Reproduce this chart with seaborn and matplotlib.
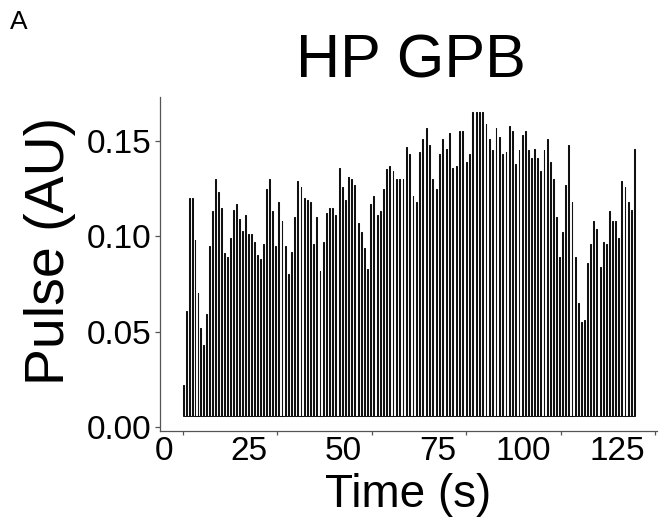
import numpy as np
import pandas as pd
import matplotlib
matplotlib.use("Agg")
import matplotlib.pyplot as plt
from matplotlib.transforms import ScaledTranslation
import seaborn as sns

# ---------------- data ----------------
title = "HP GPB"
panel_tag = "A"
x_label = "Time (s)"
y_label = "Pulse (AU)"
x_ticks = [0, 25, 50, 75, 100, 125]
y_ticks = [0.00, 0.05, 0.10, 0.15]
y_tick_labels = ["0.00", "0.05", "0.10", "0.15"]

baseline = 0.006  # resting level of the trace between pulses

# pulse peak heights, read in four consecutive stretches of the record
peaks_seg1 = [0.022, 0.061, 0.120, 0.120, 0.098, 0.070, 0.052, 0.043, 0.059, 0.095,
              0.113, 0.130, 0.123, 0.115, 0.091, 0.089, 0.099, 0.114, 0.117, 0.109,
              0.103, 0.111, 0.101, 0.101, 0.097, 0.090, 0.088, 0.096, 0.125, 0.130]
peaks_seg2 = [0.113, 0.095, 0.118, 0.108, 0.095, 0.080, 0.092, 0.110, 0.129, 0.126,
              0.120, 0.119, 0.118, 0.096, 0.110, 0.082, 0.097, 0.112, 0.115, 0.115,
              0.111, 0.136, 0.126, 0.119, 0.131, 0.130, 0.127, 0.107, 0.102, 0.094,
              0.083, 0.117, 0.121, 0.111, 0.113, 0.125, 0.135, 0.137]
peaks_seg3 = [0.134, 0.130, 0.130, 0.130, 0.147, 0.143, 0.121, 0.118, 0.144, 0.151,
              0.157, 0.148, 0.130, 0.125, 0.143, 0.151, 0.146, 0.154, 0.136, 0.137,
              0.155, 0.155, 0.139, 0.143, 0.165, 0.165, 0.165, 0.165, 0.159, 0.151,
              0.145, 0.157, 0.152, 0.143, 0.144]
peaks_seg4 = [0.158, 0.155, 0.138, 0.145, 0.153, 0.155, 0.145, 0.141, 0.146, 0.141,
              0.134, 0.145, 0.151, 0.139, 0.130, 0.110, 0.089, 0.102, 0.127, 0.148,
              0.118, 0.089, 0.065, 0.055, 0.056, 0.086, 0.096, 0.108, 0.104, 0.084,
              0.097, 0.096, 0.113, 0.108, 0.108, 0.099, 0.129, 0.126, 0.118, 0.114,
              0.146]
# time (s) of the first and last pulse of each stretch (beats are evenly spaced inside)
seg_first_time = [0.08, 23.73, 55.63, 86.51]
seg_last_time = [22.83, 54.76, 85.52, 119.50]

# ---------------- build the trace ----------------
segments = [peaks_seg1, peaks_seg2, peaks_seg3, peaks_seg4]
beat_t = np.concatenate([np.linspace(a, b, len(s))
                         for s, a, b in zip(segments, seg_first_time, seg_last_time)])
beat_v = np.concatenate([np.asarray(s) for s in segments])

half_width = 0.12  # pulse half width in seconds
tt, vv = [], []
for t, v in zip(beat_t, beat_v):
    tt += [t - half_width, t - half_width, t + half_width, t + half_width]
    vv += [baseline, v, v, baseline]
df = pd.DataFrame({"time": tt, "pulse": vv})

# ---------------- figure ----------------
sns.set_style("ticks")
plt.rcParams["font.family"] = ["Liberation Sans", "DejaVu Sans"]
plt.rcParams["text.color"] = "black"
plt.rcParams["axes.labelcolor"] = "black"

W, H = 659, 520
fig = plt.figure(figsize=(W / 100, H / 100), dpi=100)
L, R, T, B = 160, 657, 97, 431
ax = fig.add_axes([L / W, 1 - B / H, (R - L) / W, (B - T) / H])

sns.lineplot(data=df, x="time", y="pulse", sort=False, estimator=None,
             color="#111111", linewidth=0.75, ax=ax)

ax.set_xlim(-6.05, 125.5)
ax.set_ylim(-0.0021, 0.173)

sns.despine(ax=ax)
for s in ("left", "bottom"):
    ax.spines[s].set_color("#555555")
    ax.spines[s].set_linewidth(0.9)

ax.set_xticks(x_ticks)
ax.set_xticklabels([str(v) for v in x_ticks])
ax.set_yticks(y_ticks)
ax.set_yticklabels(y_tick_labels)
ax.tick_params(axis="both", colors="#555555", labelcolor="black",
               labelsize=24, width=0.9)
ax.tick_params(axis="y", length=3.6, pad=2.8)
ax.tick_params(axis="x", length=2.9, pad=0.5)

# x tick labels sit slightly left of their tick marks in the reference
off = ScaledTranslation(-10 / 100, 0, fig.dpi_scale_trans)
for lab in ax.get_xticklabels():
    lab.set_horizontalalignment("right")
    lab.set_transform(lab.get_transform() + off)

ax.set_xlabel(x_label, fontsize=33, color="black")
ax.xaxis.set_label_coords(0.5, (B - 507) / (B - T))
ax.xaxis.label.set_verticalalignment("baseline")

ax.set_ylabel(y_label, fontsize=40, color="black")
ax.yaxis.set_label_coords((50 - L) / (R - L), (B - 251) / (B - T))
ax.yaxis.label.set_verticalalignment("center")

fig.text(411 / W, 1 - 77 / H, title, fontsize=44, ha="center", va="baseline",
         color="black")
fig.text(10 / W, 1 - 29 / H, panel_tag, fontsize=19, ha="left", va="baseline",
         color="black")

fig.savefig("out.png", dpi=100)
